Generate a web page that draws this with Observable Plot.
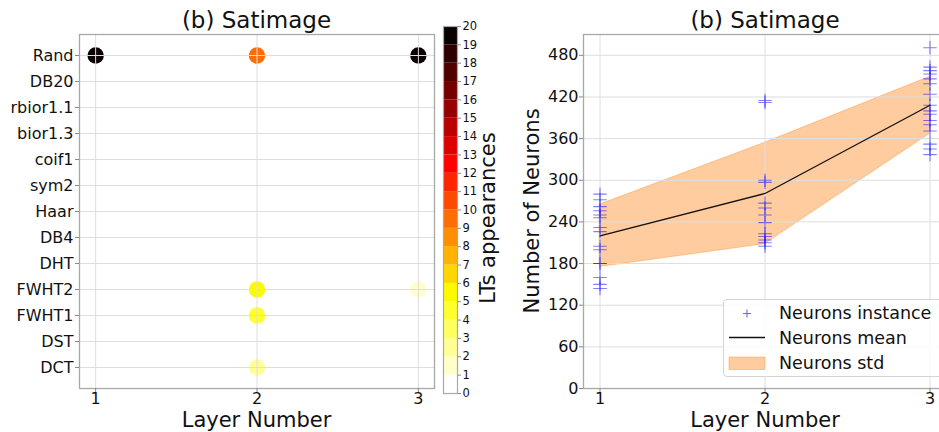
<!DOCTYPE html>
<html>
<head>
<meta charset="utf-8">
<script src="https://cdn.jsdelivr.net/npm/d3@7"></script>
<script src="https://cdn.jsdelivr.net/npm/@observablehq/plot@0.6"></script>
<style>
  html, body { margin: 0; padding: 0; background: #fff; overflow: hidden; }
  #root { position: relative; width: 939px; height: 432px; overflow: hidden; background: #fff; font-family: "DejaVu Sans", sans-serif; }
  #root > svg, #root > div { position: absolute; }
</style>
</head>
<body>
<div id="root"></div>
<script>
// ---------- DATA ----------
const transforms = ["Rand", "DB20", "rbior1.1", "bior1.3", "coif1", "sym2", "Haar", "DB4", "DHT", "FWHT2", "FWHT1", "DST", "DCT"];
const layerTicks = [1, 2, 3];

// LT appearances (left chart)
const apTransform = ["Rand", "Rand", "Rand", "FWHT2", "FWHT2", "FWHT1", "DCT"];
const apLayer     = [1,      2,      3,      2,       3,       2,       2];
const apCount     = [20,     9,      19,     5,       1,       4,       2];
const colorbarTicks = [0,1,2,3,4,5,6,7,8,9,10,11,12,13,14,15,16,17,18,19,20];

// Neurons (right chart)
const neuronsL1 = [280, 272, 262, 256, 250, 246, 232, 226, 205, 200, 180, 180, 160, 150, 144];
const neuronsL2 = [415, 412, 300, 297, 267, 260, 250, 239, 223, 219, 214, 210, 205];
const neuronsL3 = [491, 463, 458, 453, 446, 439, 424, 408, 400, 395, 386, 380, 371, 352, 345, 337];
const neuronsMean = [220, 281, 408];
const neuronsStd  = [45, 73, 41];
const neuronTicks = [0, 60, 120, 180, 240, 300, 360, 420, 480];

// ---------- derived tables ----------
const apData = apTransform.map((t, i) => ({transform: t, layer: apLayer[i], count: apCount[i]}));
const instances = [
  ...neuronsL1.map(n => ({layer: 1, n})),
  ...neuronsL2.map(n => ({layer: 2, n})),
  ...neuronsL3.map(n => ({layer: 3, n}))
];
const stats = layerTicks.map((l, i) => ({layer: l, mean: neuronsMean[i], lo: neuronsMean[i] - neuronsStd[i], hi: neuronsMean[i] + neuronsStd[i]}));
const cbBins = colorbarTicks.slice(0, -1).map(v => ({lo: v, hi: v + 1}));

// matplotlib "hot_r" resampled to 20 levels
function hot(x) {
  const c = v => Math.max(0, Math.min(1, v));
  const r = c(0.0416 + (1 - 0.0416) * x / 0.365079);
  const g = c((x - 0.365079) / (0.746032 - 0.365079));
  const b = c((x - 0.746032) / (1 - 0.746032));
  return d3.rgb(r * 255, g * 255, b * 255).formatHex();
}
const hotColors = d3.range(20).map(k => hot(1 - k / 19));
const colorScale = {type: "threshold", domain: colorbarTicks.slice(1, -1), range: hotColors};

const FONT = "DejaVu Sans, sans-serif";
const GRID = "#dedede";
const SPINE = "#a8a8a8";
const TICK = "#888";
const baseStyle = {fontFamily: FONT, fontSize: "16px", color: "#000", background: "transparent", overflow: "visible"};

const root = document.getElementById("root");

// ---------- Left chart ----------
const left = Plot.plot({
  width: 440, height: 432,
  marginLeft: 79, marginRight: 6, marginTop: 34, marginBottom: 44,
  style: baseStyle,
  x: {domain: [0.9, 3.1]},
  y: {type: "point", domain: transforms, padding: 0.6},
  color: colorScale,
  marks: [
    Plot.dot(apData, {x: "layer", y: "transform", fill: "count", r: 8.2}),
    Plot.gridX({ticks: layerTicks, stroke: GRID, strokeOpacity: 1}),
    Plot.gridY({stroke: GRID, strokeOpacity: 1}),
    Plot.frame({stroke: SPINE, strokeWidth: 1.3}),
    Plot.axisX({ticks: layerTicks, tickFormat: d => String(d), tickSize: 4, tickPadding: 0, fontSize: 16, label: null, stroke: TICK, fill: "#111"}),
    Plot.axisY({tickSize: 4, tickPadding: 2, fontSize: 16, label: null, stroke: TICK, fill: "#111"})
  ]
});
left.style.left = "0px"; left.style.top = "0px";
root.appendChild(left);

// ---------- Colorbar ----------
const cbar = Plot.plot({
  width: 60, height: 432,
  marginLeft: 13, marginRight: 33, marginTop: 26, marginBottom: 39,
  style: baseStyle,
  x: {domain: [0, 1], axis: null},
  y: {domain: [0, 20]},
  color: colorScale,
  marks: [
    Plot.rect(cbBins, {x1: 0, x2: 1, y1: "lo", y2: "hi", fill: "lo"}),
    Plot.frame({stroke: SPINE, strokeWidth: 1.2}),
    Plot.axisY({anchor: "right", ticks: colorbarTicks, tickFormat: d => String(d), tickSize: 3, tickPadding: 2, fontSize: 11.5, label: null, stroke: TICK, fill: "#111"})
  ]
});
cbar.style.left = "430px"; cbar.style.top = "0px";
root.appendChild(cbar);

// ---------- Right chart ----------
const right = Plot.plot({
  width: 450, height: 432,
  marginLeft: 83, marginRight: 4, marginTop: 34, marginBottom: 44,
  style: baseStyle,
  x: {domain: [0.9, 3.1]},
  y: {domain: [0, 510]},
  marks: [
    Plot.areaY(stats, {x: "layer", y1: "lo", y2: "hi", fill: "#ff7f0e", fillOpacity: 0.4, stroke: "#ff7f0e", strokeOpacity: 0.35, strokeWidth: 1}),
    Plot.gridX({ticks: layerTicks, stroke: GRID, strokeOpacity: 1}),
    Plot.gridY({ticks: neuronTicks, stroke: GRID, strokeOpacity: 1}),
    Plot.lineY(stats, {x: "layer", y: "mean", stroke: "#111", strokeWidth: 1.3}),
    Plot.dot(instances, {x: "layer", y: "n", symbol: "plus", r: 4.4, stroke: "blue", strokeOpacity: 0.5, strokeWidth: 1.1}),
    Plot.frame({stroke: SPINE, strokeWidth: 1.3}),
    Plot.axisX({ticks: layerTicks, tickFormat: d => String(d), tickSize: 4, tickPadding: 0, fontSize: 16, label: null, stroke: TICK, fill: "#111"}),
    Plot.axisY({ticks: neuronTicks, tickFormat: d => String(d), tickSize: 4, tickPadding: 1, fontSize: 16, label: null, stroke: TICK, fill: "#111"})
  ]
});
right.style.left = "500px"; right.style.top = "0px";
root.appendChild(right);

// ---------- Legend (right chart) ----------
const legend = document.createElement("div");
legend.style.cssText = "left:723px;top:299px;width:240px;height:78px;border:1px solid #d4d4d4;border-radius:4px;background:rgba(255,255,255,0.85);box-sizing:border-box;";
root.appendChild(legend);

// ---------- Overlay texts ----------
const ns = "http://www.w3.org/2000/svg";
const ov = document.createElementNS(ns, "svg");
ov.setAttribute("width", 939); ov.setAttribute("height", 432);
ov.style.left = "0px"; ov.style.top = "0px";
ov.style.fontFamily = FONT;
function txt(s, x, y, size, opts = {}) {
  const t = document.createElementNS(ns, "text");
  t.textContent = s;
  t.setAttribute("x", 0); t.setAttribute("y", 0);
  t.setAttribute("transform", `translate(${x},${y})` + (opts.rotate ? ` rotate(${opts.rotate})` : ""));
  t.setAttribute("font-size", size);
  t.setAttribute("text-anchor", opts.anchor || "middle");
  t.setAttribute("fill", "#111");
  ov.appendChild(t);
}
txt("(b) Satimage", 256.5, 28, 23);
txt("(b) Satimage", 765, 28, 23);
txt("Layer Number", 256.5, 427, 21);
txt("Layer Number", 765, 427, 21);
txt("Number of Neurons", 539, 211, 21, {rotate: -90});
txt("LTs appearances", 495, 218, 21, {rotate: -90});
// legend swatches
const plus = document.createElementNS(ns, "path");
plus.setAttribute("d", "M743,313.5H751M747,309.5V317.5");
plus.setAttribute("stroke", "blue"); plus.setAttribute("stroke-opacity", 0.6); plus.setAttribute("stroke-width", 1.1);
ov.appendChild(plus);
const ln = document.createElementNS(ns, "path");
ln.setAttribute("d", "M729,337.5H765");
ln.setAttribute("stroke", "#111"); ln.setAttribute("stroke-width", 1.3);
ov.appendChild(ln);
const rc = document.createElementNS(ns, "rect");
rc.setAttribute("x", 729); rc.setAttribute("y", 357); rc.setAttribute("width", 36); rc.setAttribute("height", 12.5);
rc.setAttribute("fill", "#ff7f0e"); rc.setAttribute("fill-opacity", 0.4);
rc.setAttribute("stroke", "#ff7f0e"); rc.setAttribute("stroke-opacity", 0.35);
ov.appendChild(rc);
txt("Neurons instance", 779, 319, 17.5, {anchor: "start"});
txt("Neurons mean", 779, 344, 17.5, {anchor: "start"});
txt("Neurons std", 779, 369, 17.5, {anchor: "start"});
root.appendChild(ov);
</script>
</body>
</html>
